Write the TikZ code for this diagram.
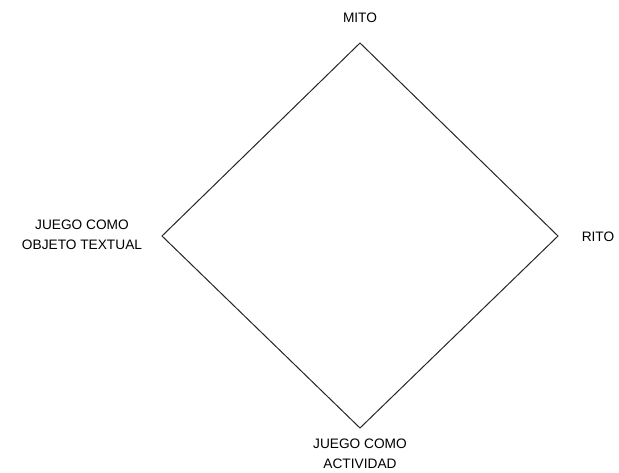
\documentclass[tikz,border=0pt]{standalone}
\usepackage{fontspec}
\setmainfont{Liberation Sans}
\begin{document}
\begin{tikzpicture}[x=1pt,y=-1pt,
  lbl/.style={font=\fontsize{13.7}{19.5}\selectfont, align=center, inner sep=0pt, text=black},
  edge/.style={draw=black!85, line width=1pt, line join=miter}]
\useasboundingbox (0,0) rectangle (619,472);
\coordinate (T) at (360,43);
\coordinate (R) at (558,236);
\coordinate (B) at (360,428);
\coordinate (L) at (162,236);
\draw[edge] (T) -- (R) -- (B) -- (L) -- cycle;
\node[lbl] (mito) at (360,18) {MITO};
\node[lbl] (rito) at (598,237) {RITO};
\node[lbl] (juego) at (82,235) {JUEGO COMO\\OBJETO TEXTUAL};
\node[lbl] (act) at (360,454) {JUEGO COMO\\ACTIVIDAD};
\end{tikzpicture}
\end{document}
